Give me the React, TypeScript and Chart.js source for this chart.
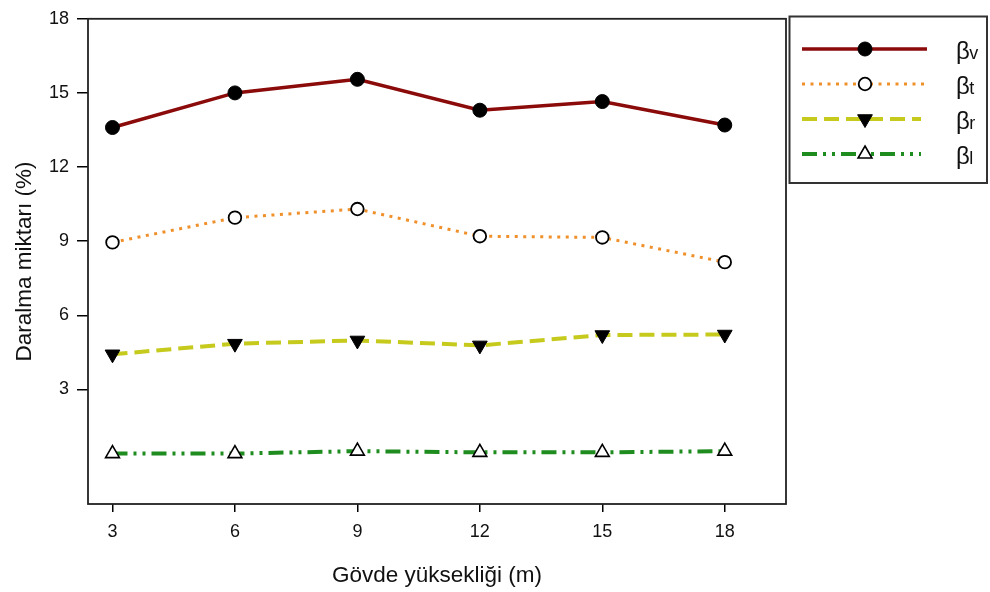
import React, { useEffect, useRef } from 'react';
import { Chart, registerables } from 'chart.js';

Chart.register(...registerables);

// ---- data ----
const heights = [3, 6, 9, 12, 15, 18];
const betaV = [13.6, 15.0, 15.55, 14.3, 14.65, 13.7];
const betaT = [8.95, 9.95, 10.3, 9.2, 9.15, 8.15];
const betaR = [4.42, 4.85, 4.98, 4.78, 5.2, 5.22];
const betaL = [0.4, 0.4, 0.5, 0.45, 0.45, 0.5];
const seriesSymbol = 'β';
const seriesSubscripts = ['v', 't', 'r', 'l'];
const xTicks = [3, 6, 9, 12, 15, 18];
const yTicks = [3, 6, 9, 12, 15, 18];
const xTitle = 'Gövde yüksekliği (m)';
const yTitle = 'Daralma miktarı (%)';

const FONT = "'Liberation Sans', Arial, Helvetica, sans-serif";

type Marker = {
  style: 'circle' | 'triangle';
  radius: number;
  rotation: number;
  fill: string;
  stroke: string;
  lw: number;
};

const seriesStyles = [
  { color: '#8b0a0a', width: 3.5, dash: [] as number[], legendEnd: 927,
    marker: { style: 'circle', radius: 7, rotation: 0, fill: '#000', stroke: '#000', lw: 1 } as Marker },
  { color: '#f0902a', width: 3, dash: [3, 5.5], legendEnd: 927,
    marker: { style: 'circle', radius: 6.3, rotation: 0, fill: '#fff', stroke: '#000', lw: 1.8 } as Marker },
  { color: '#c6ca1c', width: 4, dash: [15, 7], legendEnd: 921,
    marker: { style: 'triangle', radius: 8.5, rotation: 180, fill: '#000', stroke: '#000', lw: 1 } as Marker },
  { color: '#1e8c1e', width: 4, dash: [15, 6, 3, 6, 3, 6], legendEnd: 921,
    marker: { style: 'triangle', radius: 8, rotation: 0, fill: '#fff', stroke: '#000', lw: 1.6 } as Marker },
];

const seriesValues = [betaV, betaT, betaR, betaL];

function drawMarker(ctx: CanvasRenderingContext2D, m: Marker, x: number, y: number) {
  ctx.save();
  ctx.setLineDash([]);
  ctx.beginPath();
  if (m.style === 'circle') {
    ctx.arc(x, y, m.radius, 0, Math.PI * 2);
  } else {
    let rad = (m.rotation * Math.PI) / 180;
    for (let k = 0; k < 3; k++) {
      const px = x + Math.sin(rad) * m.radius;
      const py = y - Math.cos(rad) * m.radius;
      if (k === 0) ctx.moveTo(px, py);
      else ctx.lineTo(px, py);
      rad += (2 * Math.PI) / 3;
    }
    ctx.closePath();
  }
  ctx.fillStyle = m.fill;
  ctx.fill();
  ctx.lineWidth = m.lw;
  ctx.strokeStyle = m.stroke;
  ctx.stroke();
  ctx.restore();
}

const framePlugin = {
  id: 'frameAndLegend',
  afterDraw(chart: any) {
    const ctx: CanvasRenderingContext2D = chart.ctx;
    const a = chart.chartArea;
    ctx.save();
    // plot frame
    ctx.strokeStyle = '#222';
    ctx.lineWidth = 1.8;
    ctx.setLineDash([]);
    ctx.strokeRect(a.left, a.top, a.right - a.left, a.bottom - a.top);

    // legend box
    const lx = 789.5, ly = 16.5, lw = 197.5, lh = 166.5;
    ctx.strokeStyle = '#333';
    ctx.lineWidth = 2;
    ctx.strokeRect(lx, ly, lw, lh);

    seriesStyles.forEach((s, i) => {
      const y = 49 + i * 35;
      ctx.save();
      ctx.strokeStyle = s.color;
      ctx.lineWidth = s.width;
      ctx.setLineDash(s.dash);
      ctx.beginPath();
      ctx.moveTo(802, y);
      ctx.lineTo(s.legendEnd, y);
      ctx.stroke();
      ctx.restore();
      drawMarker(ctx, s.marker, 865, y);

      ctx.fillStyle = '#111';
      ctx.textAlign = 'left';
      ctx.textBaseline = 'alphabetic';
      ctx.font = `24px ${FONT}`;
      const bx = 956;
      const by = y + 9.5;
      ctx.fillText(seriesSymbol, bx, by);
      const bw = ctx.measureText(seriesSymbol).width;
      ctx.font = `18px ${FONT}`;
      ctx.fillText(seriesSubscripts[i], bx + bw - 0.5, by + 0.5);
    });
    ctx.restore();
  },
};

export default function App() {
  const ref = useRef<HTMLCanvasElement | null>(null);

  useEffect(() => {
    document.body.style.margin = '0';
    const canvas = ref.current;
    if (!canvas) return;

    const datasets = seriesValues.map((vals, i) => {
      const s = seriesStyles[i];
      return {
        label: seriesSymbol + seriesSubscripts[i],
        data: heights.map((h, j) => ({ x: h, y: vals[j] })),
        borderColor: s.color,
        borderWidth: s.width,
        borderDash: s.dash,
        backgroundColor: s.color,
        fill: false,
        tension: 0,
        pointStyle: s.marker.style,
        pointRadius: s.marker.radius,
        pointRotation: s.marker.rotation,
        pointBackgroundColor: s.marker.fill,
        pointBorderColor: s.marker.stroke,
        pointBorderWidth: s.marker.lw,
      };
    });

    const chart = new Chart(canvas, {
      type: 'line',
      data: { datasets },
      options: {
        responsive: false,
        animation: false,
        devicePixelRatio: 1,
        layout: { padding: { top: 17, right: 204, left: 0, bottom: 0 } },
        plugins: {
          legend: { display: false },
          tooltip: { enabled: false },
        },
        scales: {
          x: {
            type: 'linear',
            min: 2.4,
            max: 19.5,
            afterBuildTicks: (scale: any) => {
              scale.ticks = xTicks.map((v) => ({ value: v }));
            },
            afterFit: (scale: any) => {
              scale.height = 88;
            },
            grid: {
              display: true,
              drawOnChartArea: false,
              drawTicks: true,
              tickLength: 8,
              color: '#000',
              lineWidth: 1.5,
            },
            border: { display: false },
            ticks: {
              color: '#111',
              font: { family: FONT, size: 18 },
              padding: 9,
              maxRotation: 0,
              autoSkip: false,
              callback: (v: any) => String(v),
            },
            title: {
              display: true,
              text: xTitle,
              color: '#111',
              font: { family: FONT, size: 22.5 },
              padding: { top: 0, bottom: 3 },
            },
          },
          y: {
            type: 'linear',
            min: -1.64,
            max: 18,
            afterBuildTicks: (scale: any) => {
              scale.ticks = yTicks.map((v) => ({ value: v }));
            },
            afterFit: (scale: any) => {
              scale.width = 88;
            },
            grid: {
              display: true,
              drawOnChartArea: false,
              drawTicks: true,
              tickLength: 11,
              color: '#000',
              lineWidth: 1.5,
            },
            border: { display: false },
            ticks: {
              color: '#111',
              font: { family: FONT, size: 18 },
              padding: 8,
              autoSkip: false,
              callback: (v: any) => String(v),
            },
            title: {
              display: true,
              text: yTitle,
              color: '#111',
              font: { family: FONT, size: 22.5 },
              padding: { top: 11, bottom: 0 },
            },
          },
        },
      },
      plugins: [framePlugin],
    } as any);

    return () => chart.destroy();
  }, []);

  return (
    <div style={{ position: 'fixed', left: 0, top: 0, width: 990, height: 592, background: '#fff' }}>
      <canvas ref={ref} width={990} height={592} style={{ display: 'block', width: 990, height: 592 }} />
    </div>
  );
}
